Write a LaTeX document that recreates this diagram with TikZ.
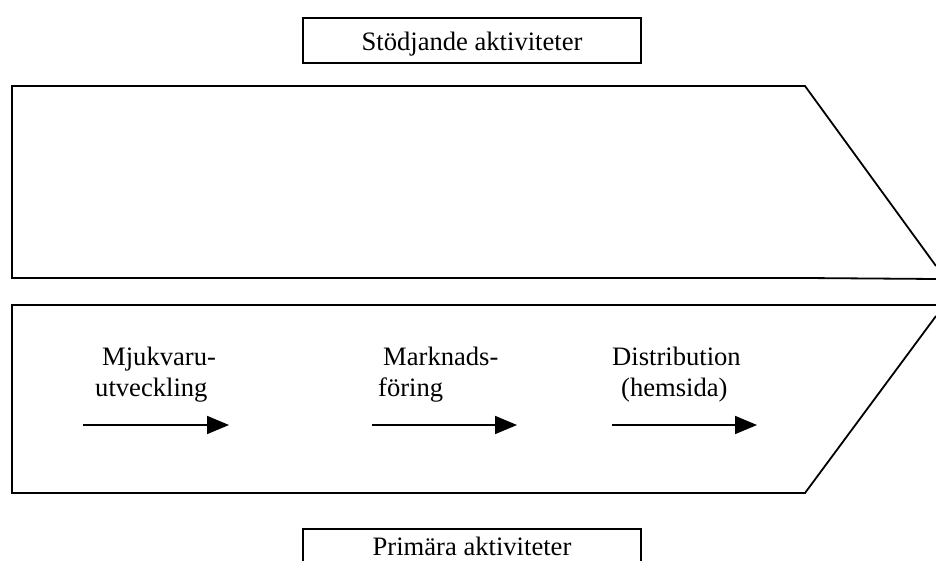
\documentclass[tikz,border=0pt]{standalone}
\usepackage{fontspec}
\setmainfont{Liberation Serif}
\usetikzlibrary{arrows.meta}
\begin{document}
\begin{tikzpicture}[x=1pt,y=-1pt,
  outline/.style={draw=black,line width=1.8pt,line join=miter},
  label/.style={font=\fontsize{26.6}{30}\selectfont,inner sep=0pt,anchor=base west},
  flow/.style={draw=black,line width=1.8pt,-{Triangle[length=22pt,width=18pt]}}]
  \useasboundingbox (0,0) rectangle (936,561);
  \clip (0,0) rectangle (936,561);

  % support activities band
  \draw[outline] (936,266) -- (805,86) -- (12,86) -- (12,278) -- (805,278) -- (936,279);
  % primary activities band
  \draw[outline] (936,305) -- (12,305) -- (12,493) -- (805,493) -- (936,316);

  % caption boxes
  \draw[outline] (303,18) rectangle (641,63);
  \node[label,anchor=base] (stod) at (472,51) {Stödjande aktiviteter};
  \draw[outline] (303,568) -- (303,529) -- (641,529) -- (641,568);
  \node[label,anchor=base] (prim) at (472,555) {Primära aktiviteter};

  % activity labels
  \node[label] (mj1) at (102,365) {Mjukvaru-};
  \node[label] (mj2) at (95,396) {utveckling};
  \node[label] (ma1) at (383,365) {Marknads-};
  \node[label] (ma2) at (378,396) {föring};
  \node[label] (di1) at (612,365) {Distribution};
  \node[label] (di2) at (621,396) {(hemsida)};

  % flow arrows
  \coordinate (a1s) at (83,425);  \coordinate (a1e) at (229,425);
  \coordinate (a2s) at (372,425); \coordinate (a2e) at (517,425);
  \coordinate (a3s) at (612,425); \coordinate (a3e) at (757,425);
  \draw[flow] (a1s) -- (a1e);
  \draw[flow] (a2s) -- (a2e);
  \draw[flow] (a3s) -- (a3e);
\end{tikzpicture}
\end{document}
